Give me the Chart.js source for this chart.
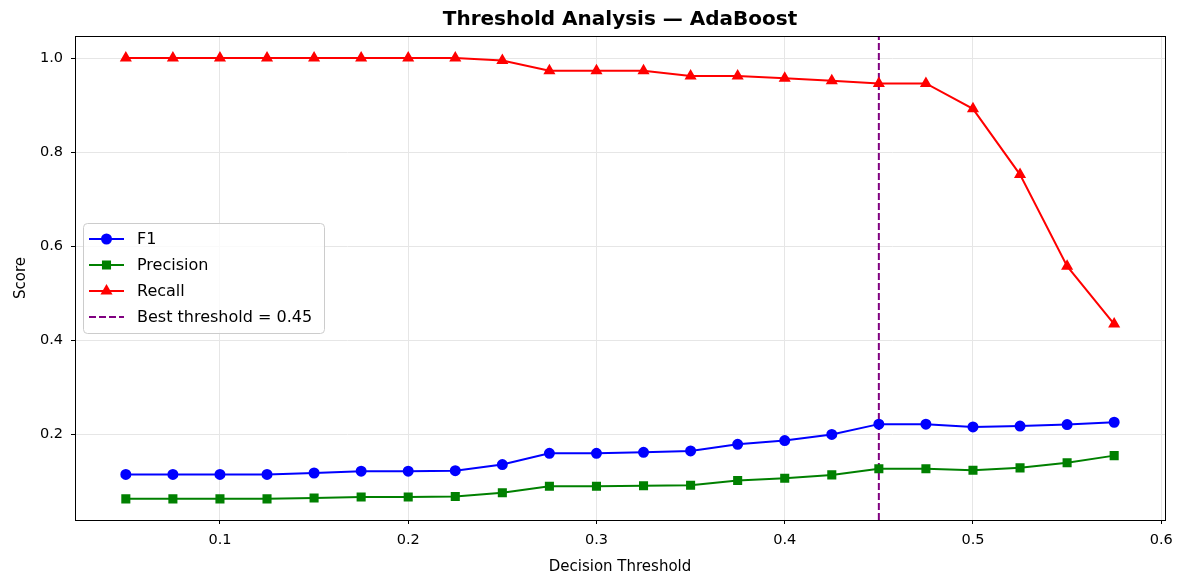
<!DOCTYPE html>
<html>
<head>
<meta charset="utf-8">
<script src="https://cdn.jsdelivr.net/npm/chart.js@4"></script>
<style>
  html, body { margin: 0; padding: 0; background: #fff; }
  #wrap { width: 1187px; height: 587px; }
</style>
</head>
<body>
<div id="wrap"><canvas id="thresholdChart" width="1187" height="587"></canvas></div>
<script>
// data
const thresholds = [0.05, 0.075, 0.1, 0.125, 0.15, 0.175, 0.2, 0.225, 0.25, 0.275, 0.3,
                    0.325, 0.35, 0.375, 0.4, 0.425, 0.45, 0.475, 0.5, 0.525, 0.55, 0.575];
const f1Scores = [0.114, 0.114, 0.114, 0.114, 0.117, 0.121, 0.121, 0.122, 0.135, 0.159, 0.159,
                  0.161, 0.164, 0.178, 0.186, 0.199, 0.221, 0.221, 0.215, 0.217, 0.220, 0.225];
const precisionScores = [0.062, 0.062, 0.062, 0.062, 0.064, 0.066, 0.066, 0.067, 0.075, 0.089, 0.089,
                         0.090, 0.091, 0.101, 0.106, 0.113, 0.126, 0.126, 0.123, 0.128, 0.139, 0.154];
const recallScores = [1.0, 1.0, 1.0, 1.0, 1.0, 1.0, 1.0, 1.0, 0.995, 0.973, 0.973,
                      0.973, 0.962, 0.962, 0.957, 0.952, 0.946, 0.946, 0.892, 0.752, 0.557, 0.434];
const bestThreshold = 0.45;
const xTicks = [0.1, 0.2, 0.3, 0.4, 0.5, 0.6];
const yTicks = [0.2, 0.4, 0.6, 0.8, 1.0];
const xRange = [0.023, 0.602];
const yRange = [0.017, 1.047];
const chartTitle = 'Threshold Analysis — AdaBoost';

const FONT = "'DejaVu Sans', sans-serif";

function points(ys) {
    return thresholds.map((t, i) => ({ x: t, y: ys[i] }));
}

// full black frame round the plot area + title centred over the axes
const framePlugin = {
    id: 'frame',
    afterDraw(chart) {
        const a = chart.chartArea, ctx = chart.ctx;
        ctx.save();
        ctx.strokeStyle = '#000';
        ctx.lineWidth = 1;
        ctx.strokeRect(Math.round(a.left) + 0.5, Math.round(a.top) + 0.5,
                       Math.round(a.right - a.left), Math.round(a.bottom - a.top));
        ctx.fillStyle = '#000';
        ctx.font = 'bold 20px ' + FONT;
        ctx.textAlign = 'center';
        ctx.textBaseline = 'middle';
        ctx.fillText(chartTitle, (a.left + a.right) / 2, 20);
        ctx.restore();
    }
};

// legend box inside the axes (left, middle)
const boxLegend = {
    id: 'boxLegend',
    afterDraw(chart) {
        const ctx = chart.ctx;
        const x0 = 83, y0 = 223, w = 241, h = 110;
        ctx.save();
        ctx.fillStyle = 'rgba(255,255,255,0.8)';
        ctx.strokeStyle = '#cccccc';
        ctx.lineWidth = 1;
        ctx.beginPath();
        ctx.roundRect(x0 + 0.5, y0 + 0.5, w, h, 4);
        ctx.fill();
        ctx.stroke();
        ctx.font = '16px ' + FONT;
        ctx.textBaseline = 'middle';
        chart.data.datasets.forEach((ds, i) => {
            const y = y0 + 16 + i * 26;
            ctx.strokeStyle = ds.borderColor;
            ctx.lineWidth = 2;
            ctx.setLineDash(ds.borderDash || []);
            ctx.beginPath();
            ctx.moveTo(x0 + 6, y);
            ctx.lineTo(x0 + 41, y);
            ctx.stroke();
            ctx.setLineDash([]);
            if (ds.pointRadius > 0) {
                Chart.helpers.drawPoint(ctx, {
                    pointStyle: ds.pointStyle, radius: ds.pointRadius, borderWidth: 1
                }, x0 + 23.5, y);
                ctx.fillStyle = ds.backgroundColor;
                ctx.fill();
            }
            ctx.fillStyle = '#000';
            ctx.fillText(ds.label, x0 + 54, y + 1);
        });
        ctx.restore();
    }
};

const ctx = document.getElementById('thresholdChart').getContext('2d');
new Chart(ctx, {
    type: 'line',
    data: {
        datasets: [{
            label: 'F1',
            data: points(f1Scores),
            borderColor: '#0000ff',
            backgroundColor: '#0000ff',
            pointStyle: 'circle',
            pointRadius: 4.5,
            borderWidth: 2
        }, {
            label: 'Precision',
            data: points(precisionScores),
            borderColor: '#008000',
            backgroundColor: '#008000',
            pointStyle: 'rect',
            pointRadius: 5,
            borderWidth: 2
        }, {
            label: 'Recall',
            data: points(recallScores),
            borderColor: '#ff0000',
            backgroundColor: '#ff0000',
            pointStyle: 'triangle',
            pointRadius: 5,
            borderWidth: 2
        }, {
            label: 'Best threshold = ' + bestThreshold,
            data: [{ x: bestThreshold, y: yRange[0] }, { x: bestThreshold, y: yRange[1] }],
            borderColor: '#800080',
            backgroundColor: '#800080',
            borderDash: [7, 3],
            pointRadius: 0,
            borderWidth: 2
        }]
    },
    options: {
        responsive: false,
        animation: false,
        layout: { padding: { left: 0, right: 22, top: 36, bottom: 0 } },
        elements: { line: { tension: 0 }, point: { borderWidth: 1 } },
        plugins: {
            legend: { display: false },
            tooltip: { enabled: false },
            title: { display: false }
        },
        scales: {
            x: {
                type: 'linear',
                min: xRange[0],
                max: xRange[1],
                afterBuildTicks: s => { s.ticks = xTicks.map(v => ({ value: v })); },
                afterFit: s => { s.height = 67; },
                ticks: {
                    color: '#000',
                    font: { family: FONT, size: 14.5 },
                    padding: 8,
                    maxRotation: 0,
                    callback: v => String(Math.round(v * 10) / 10)
                },
                grid: { color: '#e6e6e6', tickColor: '#000', tickLength: 4 },
                border: { display: false },
                title: {
                    display: true,
                    text: 'Decision Threshold',
                    color: '#000',
                    font: { family: FONT, size: 15 },
                    padding: { top: 0, bottom: 11 }
                }
            },
            y: {
                type: 'linear',
                min: yRange[0],
                max: yRange[1],
                afterBuildTicks: s => { s.ticks = yTicks.map(v => ({ value: v })); },
                afterFit: s => { s.width = 75; },
                ticks: {
                    color: '#000',
                    font: { family: FONT, size: 14.5 },
                    padding: 8,
                    callback: v => v.toFixed(1)
                },
                grid: { color: '#e6e6e6', tickColor: '#000', tickLength: 4 },
                border: { display: false },
                title: {
                    display: true,
                    text: 'Score',
                    color: '#000',
                    font: { family: FONT, size: 15 },
                    padding: { top: 12, bottom: 0 }
                }
            }
        }
    },
    plugins: [framePlugin, boxLegend]
});
</script>
</body>
</html>
